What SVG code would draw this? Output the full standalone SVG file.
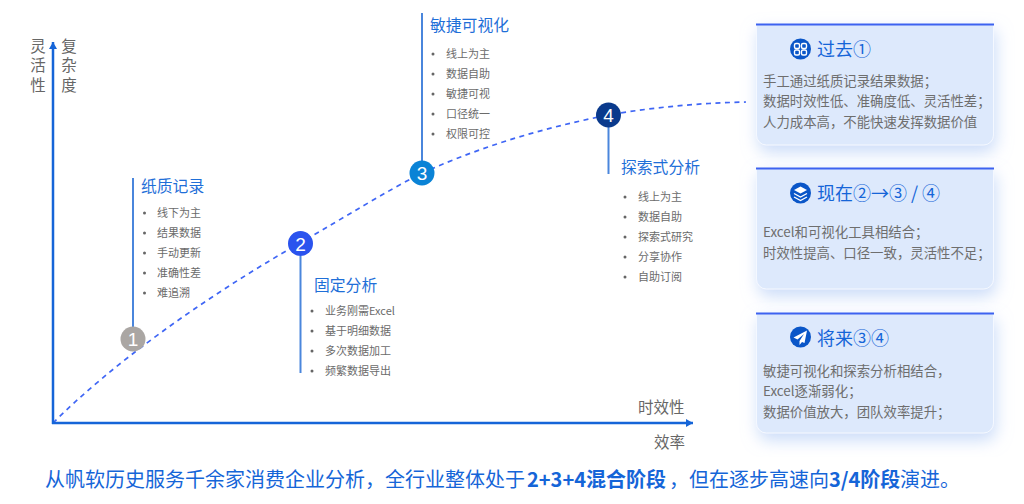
<svg xmlns="http://www.w3.org/2000/svg" width="1024" height="504" viewBox="0 0 1024 504">
<defs>
<style>
text{font-family:"Noto Sans CJK SC","Noto Sans",sans-serif}
.h{font-size:15.8px;fill:#1f6fd8}
.i{font-size:11px;fill:#6b6b6b}
.b{font-size:13.400px;fill:#6e6e6e}
.t{font-size:18px;fill:#1565d8}
.a{font-size:15.500px;fill:#666}
.y{writing-mode:vertical-rl;letter-spacing:4px}
.n{font-size:19px;fill:#fff;text-anchor:middle;font-family:"Liberation Sans",sans-serif}
.v{stroke:#4a86dc;stroke-width:2;fill:none}
.d{fill:#666}
.ax{stroke:#1565d8;stroke-width:2.500;fill:none}
.card{fill:#dde9fc;stroke:#f4f8ff;stroke-width:1}
.top{stroke:#3d62f0;stroke-width:2}
.ic{fill:#0a56c8}
.g{fill:none;stroke:#fff;stroke-width:1.400}
</style>
<filter id="sh" x="-15%" y="-15%" width="130%" height="135%"><feDropShadow dx="2" dy="7" stdDeviation="8" flood-color="#a9c6f5" flood-opacity=".6"/></filter>
<marker id="ah" markerUnits="userSpaceOnUse" markerWidth="10" markerHeight="10" refX="7" refY="4" orient="auto"><path d="M0 0L7 4L0 8Z" fill="#1565d8"/></marker>
</defs>
<rect width="1024" height="504" fill="#fff"/>
<g id="connectors">
<path d="M53 423C110 366 200 300 300 243C345 217 385 192 422 173C490 143 545 128 608 115C655 107 700 103 746 102" fill="none" stroke="#3f66f5" stroke-width="1.700" stroke-dasharray="5 4.500"/>
<path class="ax" d="M53 424V42" marker-end="url(#ah)"/>
<path class="ax" d="M52 423H693" marker-end="url(#ah)"/>
<path class="v" d="M133 178V327"/>
<path class="v" d="M300.500 256V373"/>
<path class="v" d="M422 13V161"/>
<path class="v" d="M608.500 127V174"/>
</g>
<g id="axis-y"><text class="a y" x="38" y="38">灵活性</text><text class="a y" x="69" y="38">复杂度</text></g>
<g id="axis-x"><text class="a" x="638" y="413">时效性</text><text class="a" x="654" y="448">效率</text></g>
<g id="node-1"><circle cx="133" cy="339" r="12.500" fill="#aaa6a3"/><text class="n" x="133" y="346">1</text>
<text class="h" x="141" y="192">纸质记录</text>
<g class="d"><circle cx="144.500" cy="213" r="1.500"/><circle cx="144.500" cy="233" r="1.500"/><circle cx="144.500" cy="253" r="1.500"/><circle cx="144.500" cy="273" r="1.500"/><circle cx="144.500" cy="293" r="1.500"/></g>
<text class="i" x="157" y="217">线下为主</text><text class="i" x="157" y="237">结果数据</text><text class="i" x="157" y="257">手动更新</text><text class="i" x="157" y="277">准确性差</text><text class="i" x="157" y="297">难追溯</text></g>
<g id="node-2"><circle cx="300.500" cy="243.500" r="12.500" fill="#2a53ee"/><text class="n" x="300.500" y="250.500">2</text>
<text class="h" x="314" y="291">固定分析</text>
<g class="d"><circle cx="312" cy="311" r="1.500"/><circle cx="312" cy="331" r="1.500"/><circle cx="312" cy="351" r="1.500"/><circle cx="312" cy="371" r="1.500"/></g>
<text class="i" x="325" y="315">业务刚需Excel</text><text class="i" x="325" y="335">基于明细数据</text><text class="i" x="325" y="355">多次数据加工</text><text class="i" x="325" y="375">频繁数据导出</text></g>
<g id="node-3"><circle cx="422" cy="173" r="12.500" fill="#0a83d6"/><text class="n" x="422" y="180">3</text>
<text class="h" x="430" y="31">敏捷可视化</text>
<g class="d"><circle cx="433" cy="54" r="1.500"/><circle cx="433" cy="74" r="1.500"/><circle cx="433" cy="94" r="1.500"/><circle cx="433" cy="114" r="1.500"/><circle cx="433" cy="134" r="1.500"/></g>
<text class="i" x="446" y="58">线上为主</text><text class="i" x="446" y="78">数据自助</text><text class="i" x="446" y="98">敏捷可视</text><text class="i" x="446" y="118">口径统一</text><text class="i" x="446" y="138">权限可控</text></g>
<g id="node-4"><circle cx="608.500" cy="115" r="12.500" fill="#0a3a8c"/><text class="n" x="608.500" y="122">4</text>
<text class="h" x="621" y="173">探索式分析</text>
<g class="d"><circle cx="625" cy="197" r="1.500"/><circle cx="625" cy="217" r="1.500"/><circle cx="625" cy="237" r="1.500"/><circle cx="625" cy="257" r="1.500"/><circle cx="625" cy="277" r="1.500"/></g>
<text class="i" x="638" y="201">线上为主</text><text class="i" x="638" y="221">数据自助</text><text class="i" x="638" y="241">探索式研究</text><text class="i" x="638" y="261">分享协作</text><text class="i" x="638" y="281">自助订阅</text></g>
<g id="card-past"><path class="card" filter="url(#sh)" d="M756.500 24H993.500V135a10 10 0 0 1-10 10H766.500a10 10 0 0 1-10-10Z"/><line class="top" x1="756" y1="24.500" x2="994" y2="24.500"/>
<circle class="ic" cx="800.500" cy="49" r="10.500"/><g class="g"><rect x="794.500" y="43.500" width="5" height="5" rx="1.500"/><rect x="801.500" y="43.500" width="5" height="5" rx="1.500"/><rect x="794.500" y="50" width="5" height="5" rx="1.500"/><rect x="801.500" y="50" width="5" height="5" rx="1.500"/></g>
<text class="t" x="817" y="56">过去①</text>
<text class="b" x="763" y="86">手工通过纸质记录结果数据；</text><text class="b" x="763" y="106">数据时效性低、准确度低、灵活性差；</text><text class="b" x="763" y="127">人力成本高，不能快速发挥数据价值</text></g>
<g id="card-now"><path class="card" filter="url(#sh)" d="M756.500 168H993.500V279a10 10 0 0 1-10 10H766.500a10 10 0 0 1-10-10Z"/><line class="top" x1="756" y1="168.500" x2="994" y2="168.500"/>
<circle class="ic" cx="800.500" cy="193" r="10.500"/><path d="M800.500 186.500L807 190L800.500 193.500L794 190Z" fill="#fff"/><path class="g" d="M794 193.500L800.500 197L807 193.500M794 197L800.500 200.500L807 197"/>
<text class="t" x="817" y="200">现在②→③ / ④</text>
<text class="b" x="763" y="237">Excel和可视化工具相结合；</text><text class="b" x="763" y="258">时效性提高、口径一致，灵活性不足；</text></g>
<g id="card-future"><path class="card" filter="url(#sh)" d="M756.500 313H993.500V423a10 10 0 0 1-10 10H766.500a10 10 0 0 1-10-10Z"/><line class="top" x1="756" y1="313.500" x2="994" y2="313.500"/>
<circle class="ic" cx="800.500" cy="337" r="10.500"/><path d="M807 330.500L793.500 337.500L797.500 339.500L804 334L799.500 341V345L802 342L804.500 343Z" fill="#fff"/>
<text class="t" x="817" y="345">将来③④</text>
<text class="b" x="763" y="376">敏捷可视化和探索分析相结合，</text><text class="b" x="763" y="396">Excel逐渐弱化；</text><text class="b" x="763" y="417">数据价值放大，团队效率提升；</text></g>
<text id="summary" x="45" y="487" font-size="20" fill="#1565d8">从帆软历史服务千余家消费企业分析，全行业整体处于<tspan x="527" font-weight="700">2+3+4混合阶段</tspan><tspan x="669">，但在逐步高速向</tspan><tspan x="829" font-weight="700">3/4阶段</tspan><tspan x="900">演进。</tspan></text>
</svg>
